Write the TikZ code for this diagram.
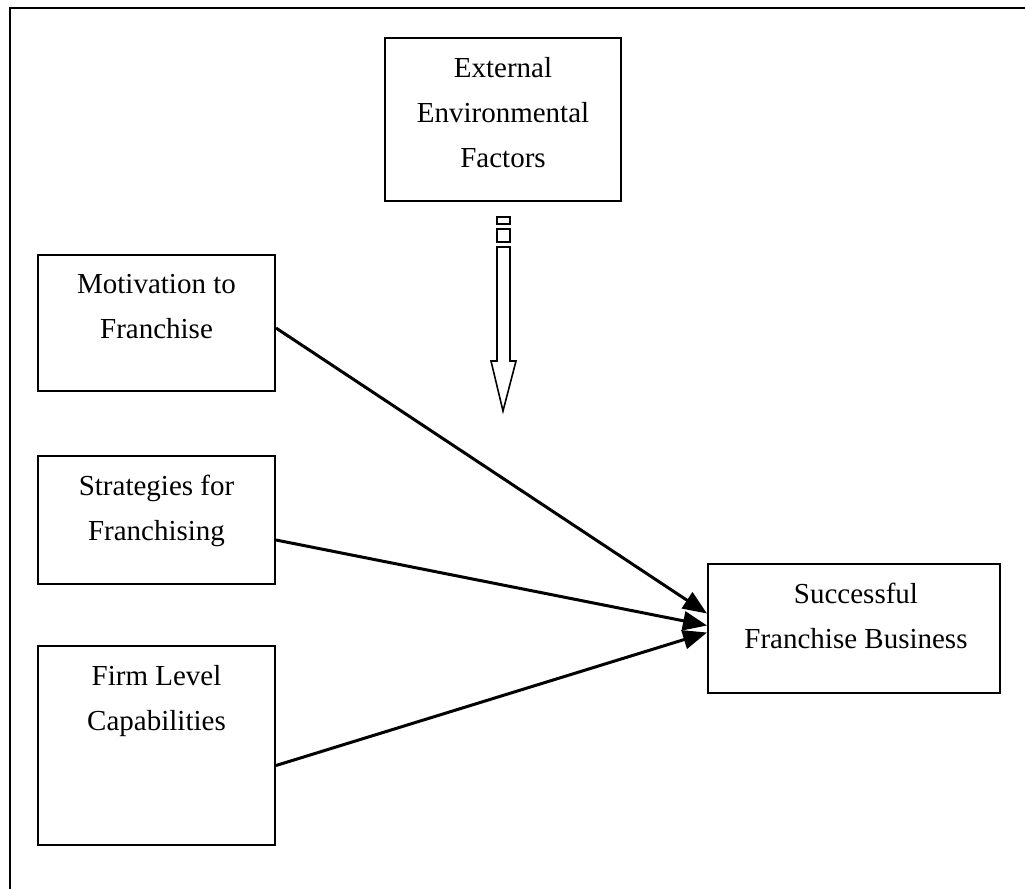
\documentclass[tikz,border=0pt]{standalone}
\usepackage{fontspec}
\setmainfont{Liberation Serif}
\usetikzlibrary{arrows.meta,calc}

\begin{document}
\begin{tikzpicture}[x=1pt,y=-1pt,
    box/.style={draw,line width=2pt,inner sep=0pt},
    txt/.style={anchor=north,inner sep=0pt,align=center,font=\fontsize{29}{45}\selectfont},
    link/.style={line width=3pt,-{Triangle[length=24pt,width=19pt]}}]
      \useasboundingbox (0,0) rectangle (1025,889);
      \draw[line width=2.5pt] (10,889) -- (10,8) -- (1025,8);

      \node[box,minimum width=236pt,minimum height=163pt] (ext) at (503,119.5) {};
      \node[box,minimum width=237pt,minimum height=136pt] (motiv) at (156.5,323) {};
      \node[box,minimum width=237pt,minimum height=128pt] (strat) at (156.5,520) {};
      \node[box,minimum width=237pt,minimum height=199pt] (firm) at (156.5,745.5) {};
      \node[box,minimum width=292pt,minimum height=129pt] (succ) at (854,628.5) {};

      \node[txt] (exttext) at ([yshift=-20pt]ext.north) {External\\Environmental\\Factors};
      \node[txt] (motivtext) at ([yshift=-20pt]motiv.north) {Motivation to\\Franchise};
      \node[txt] (strattext) at ([yshift=-20pt]strat.north) {Strategies for\\Franchising};
      \node[txt] (firmtext) at ([yshift=-20pt]firm.north) {Firm Level\\Capabilities};
      \node[txt] (succtext) at ([yshift=-20pt,xshift=2pt]succ.north) {Successful\\Franchise Business};

      \draw[link] ([yshift=-5pt]motiv.east) -- ([yshift=15pt]succ.west);
      \draw[link] ([yshift=-20pt]strat.east) -- ([yshift=3pt]succ.west);
      \draw[link] ([yshift=-20pt]firm.east) -- ([yshift=-4pt]succ.west);

      \draw[line width=1.6pt] (497,217) rectangle (510,224);
      \draw[line width=1.6pt] (497,229) rectangle (510,242);
      \draw[line width=1.6pt,line join=miter] (497,247) -- (497,361) -- (491,361) -- (503,411)
        -- (516,361) -- (510,361) -- (510,247) -- cycle;
    \end{tikzpicture}
\end{document}
